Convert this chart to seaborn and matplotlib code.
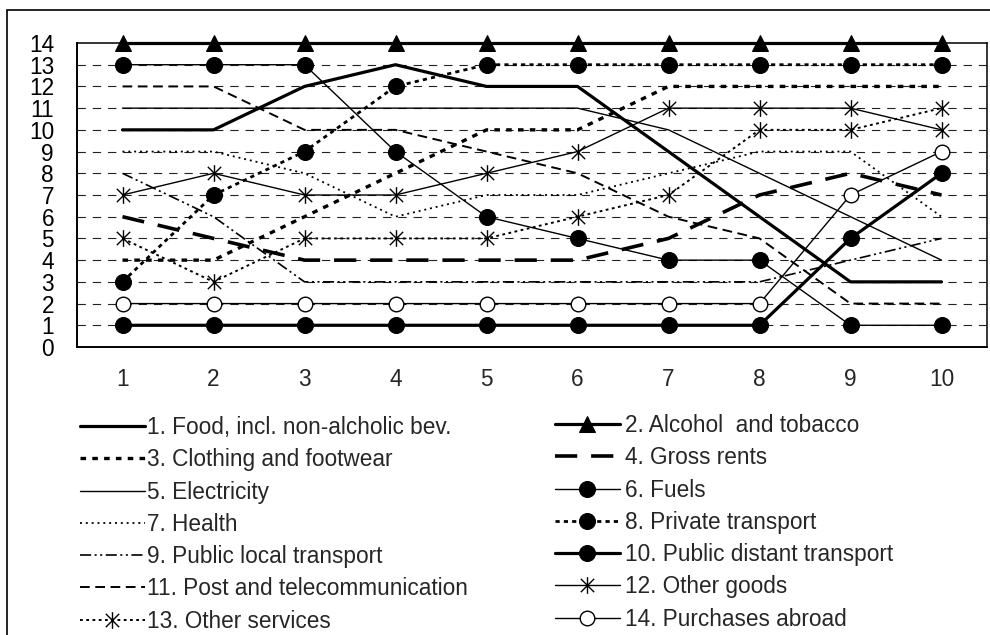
import matplotlib
matplotlib.use("Agg")
import matplotlib.pyplot as plt
import seaborn as sns
import numpy as np
from matplotlib.path import Path
from matplotlib.patches import Rectangle

# ---------------- data ----------------
x = [1, 2, 3, 4, 5, 6, 7, 8, 9, 10]
food = [10, 10, 12, 13, 12, 12, 9, 6, 3, 3]
alcohol = [14, 14, 14, 14, 14, 14, 14, 14, 14, 14]
clothing = [4, 4, 6, 8, 10, 10, 12, 12, 12, 12]
rents = [6, 5, 4, 4, 4, 4, 5, 7, 8, 7]
electricity = [11, 11, 11, 11, 11, 11, 10, 8, 6, 4]
fuels = [13, 13, 13, 9, 6, 5, 4, 4, 1, 1]
health = [9, 9, 8, 6, 7, 7, 8, 9, 9, 6]
private_transport = [3, 7, 9, 12, 13, 13, 13, 13, 13, 13]
public_local = [8, 6, 3, 3, 3, 3, 3, 3, 4, 5]
public_distant = [1, 1, 1, 1, 1, 1, 1, 1, 5, 8]
post = [12, 12, 10, 10, 9, 8, 6, 5, 2, 2]
other_goods = [7, 8, 7, 7, 8, 9, 11, 11, 11, 10]
other_services = [5, 3, 5, 5, 5, 6, 7, 10, 10, 11]
abroad = [2, 2, 2, 2, 2, 2, 2, 2, 7, 9]

labels = ["1. Food, incl. non-alcholic bev.", "2. Alcohol  and tobacco",
          "3. Clothing and footwear", "4. Gross rents", "5. Electricity",
          "6. Fuels", "7. Health", "8. Private transport",
          "9. Public local transport", "10. Public distant transport",
          "11. Post and telecommunication", "12. Other goods",
          "13. Other services", "14. Purchases abroad"]
y_ticks = list(range(0, 15))
x_labels = ["1", "2", "3", "4", "5", "6", "7", "8", "9", "10"]

series = [food, alcohol, clothing, rents, electricity, fuels, health,
          private_transport, public_local, public_distant, post,
          other_goods, other_services, abroad]

# ---------------- style ----------------
sns.set_style("white")
plt.rcParams['font.family'] = ['Liberation Sans', 'DejaVu Sans']
plt.rcParams['lines.scale_dashes'] = False
FS = 16.3

star = Path([(0, -1), (0, 1), (-0.8, -0.8), (0.8, 0.8), (-0.8, 0.8), (0.8, -0.8)],
            [Path.MOVETO, Path.LINETO, Path.MOVETO, Path.LINETO, Path.MOVETO, Path.LINETO])

styles = [
    dict(ls='-', lw=2.3),
    dict(ls='-', lw=2.3, marker='^', ms=11, mfc='black', mec='black'),
    dict(ls=(0, (4, 4.5)), lw=2.4),
    dict(ls=(0, (16, 10)), lw=2.6),
    dict(ls='-', lw=1.0),
    dict(ls='-', lw=1.0, marker='o', ms=11.5, mfc='black', mec='black'),
    dict(ls=(0, (1.4, 2.8)), lw=1.3),
    dict(ls=(0, (3, 3)), lw=2.0, marker='o', ms=11.5, mfc='black', mec='black'),
    dict(ls=(0, (8, 2.5, 1.5, 2.5, 1.5, 2.5)), lw=1.2),
    dict(ls='-', lw=2.3, marker='o', ms=11.5, mfc='black', mec='black'),
    dict(ls=(0, (7, 4)), lw=1.4),
    dict(ls='-', lw=1.0, marker=star, ms=12, mfc='none', mec='black', mew=1.0),
    dict(ls=(0, (2, 2.5)), lw=1.4, marker=star, ms=12, mfc='none', mec='black', mew=1.0),
    dict(ls='-', lw=1.0, marker='o', ms=10.5, mfc='white', mec='black', mew=1.0),
]

fig = plt.figure(figsize=(9.9, 6.35), dpi=100)
ax = fig.add_axes([77 / 990, 1 - 347 / 635, 910 / 990, (347 - 43) / 635])

# gridlines
for yv in y_ticks[1:-1]:
    ax.axhline(yv, color='#222222', lw=0.8, ls=(0, (6, 5)), zorder=0.5)

for vals, lab, st in zip(series, labels, styles):
    st = dict(st)
    ls = st.pop('ls')
    sns.lineplot(x=x, y=vals, ax=ax, color='black', label=lab,
                 linestyle=ls, clip_on=False, zorder=2, **st)

handles, labs = ax.get_legend_handles_labels()
if ax.get_legend() is not None:
    ax.get_legend().remove()

ax.set_xlim(0.5, 10.5)
ax.set_ylim(0, 14)
ax.set_yticks(y_ticks)
ax.set_yticklabels([str(v) for v in y_ticks], fontsize=FS)
ax.set_xticks(np.arange(0.5, 11, 1.0))
ax.set_xticklabels([])
ax.set_xticks(x, minor=True)
ax.set_xticklabels(x_labels, minor=True, fontsize=FS)
ax.tick_params(axis='y', direction='out', length=6.5, width=1.0, pad=10, colors='black')
ax.tick_params(axis='x', which='major', direction='out', length=4, width=1.0)
ax.tick_params(axis='x', which='minor', length=0, pad=15)
ax.set_xlabel("")
ax.set_ylabel("")
for s in ax.spines.values():
    s.set_visible(True)
    s.set_color('black')
    s.set_linewidth(1.1)
ax.spines['left'].set_linewidth(1.4)
ax.spines['bottom'].set_linewidth(1.4)

# legends (two columns)
left_idx = [0, 2, 4, 6, 8, 10, 12]
right_idx = [1, 3, 5, 7, 9, 11, 13]
common = dict(frameon=False, fontsize=FS, borderpad=0, borderaxespad=0,
              handlelength=2.85, numpoints=1, labelspacing=0.41, loc='upper left')
leg1 = fig.legend([handles[i] for i in left_idx], [labs[i] for i in left_idx],
                  bbox_to_anchor=(80 / 990, 1 - 416 / 635), handletextpad=0.1, **common)
leg2 = fig.legend([handles[i] for i in right_idx], [labs[i] for i in right_idx],
                  bbox_to_anchor=(555 / 990, 1 - 414 / 635), handletextpad=0.25, **common)

# outer frame
fig.patches.append(Rectangle((7 / 990, -0.02), 1.05, 1 - 10 / 635 + 0.02,
                             transform=fig.transFigure, fill=False,
                             edgecolor='black', lw=1.2))

fig.savefig("out.png", dpi=100)
